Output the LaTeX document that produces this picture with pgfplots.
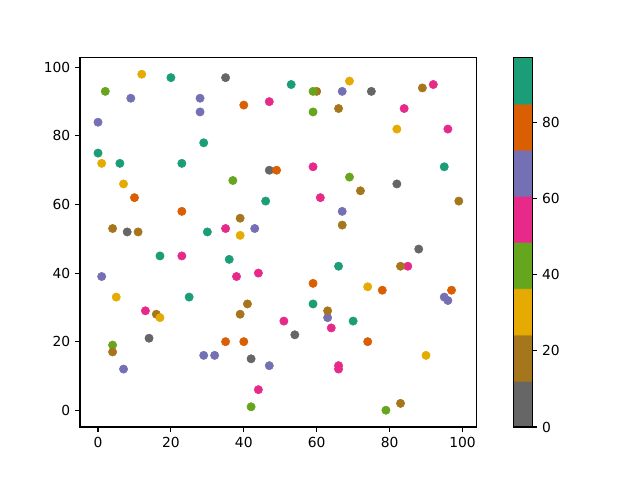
\documentclass[border=0pt]{standalone}
\usepackage{pgfplots}
\pgfplotsset{compat=1.18}
\usepackage{fontspec}
\setmainfont{DejaVu Sans}
\pgfplotsset{colormap={darkr}{
 rgb255(0cm)=(102,102,102) rgb255(0.99cm)=(102,102,102)
 rgb255(1cm)=(166,118,29) rgb255(1.99cm)=(166,118,29)
 rgb255(2cm)=(230,171,2) rgb255(2.99cm)=(230,171,2)
 rgb255(3cm)=(102,166,30) rgb255(3.99cm)=(102,166,30)
 rgb255(4cm)=(231,41,138) rgb255(4.99cm)=(231,41,138)
 rgb255(5cm)=(117,112,179) rgb255(5.99cm)=(117,112,179)
 rgb255(6cm)=(217,95,2) rgb255(6.99cm)=(217,95,2)
 rgb255(7cm)=(27,158,119) rgb255(8cm)=(27,158,119)}}
\begin{document}
\begin{tikzpicture}
\useasboundingbox (0,0) rectangle (462.5pt,346.9pt);
\begin{axis}[
  at={(57.8pt,38.3pt)}, anchor=south west,
  scale only axis, width=286.8pt, height=267.1pt,
  xmin=-4.95, xmax=103.95, ymin=-4.9, ymax=102.9,
  xtick={0,20,...,100}, ytick={0,20,...,100},
  xtick pos=bottom, ytick pos=left,
  tick align=outside, major tick length=3.5pt,
  tick style={black, line width=0.8pt},
  axis line style={line width=0.8pt},
  /pgf/number format/assume math mode=true,
  colormap name=darkr,
  point meta min=0, point meta max=97,
  colorbar,
  colorbar style={
    at={(parent axis.north east)}, anchor=north west, xshift=18.2pt,
    scale only axis, width=13.4pt, height=267.1pt,
    ytick={0,20,...,80}, xtick=\empty,
    ytick pos=right, yticklabel pos=right,
    tick align=outside, major tick length=3.5pt,
    ytick style={black, line width=0.8pt},
    axis line style={line width=0.8pt},
    /pgf/number format/assume math mode=true,
  },
]
\addplot[scatter, only marks, mark=*, mark size=3pt, scatter src=explicit,
  scatter/use mapped color={draw=mapped color, fill=mapped color}]
table[x=x, y=y, meta=c] {
x y c
12 98 30
20 97 91
2 93 42
9 91 67
28 91 67
28 87 67
0 84 67
29 78 91
0 75 91
1 72 30
6 72 91
23 72 91
7 66 30
10 62 79
23 58 79
4 53 18
8 52 6
11 52 18
30 52 91
35 97 6
53 95 91
60 93 18
59 93 42
67 93 67
69 96 30
40 89 79
47 90 55
59 87 42
66 88 18
47 70 6
49 70 79
59 71 55
37 67 42
69 68 42
46 61 91
61 62 55
67 58 67
67 54 18
39 56 18
35 53 55
39 51 30
43 53 67
75 93 6
89 94 18
92 95 55
84 88 55
82 82 30
96 82 55
95 71 91
72 64 18
82 66 6
99 61 18
17 45 91
23 45 55
1 39 67
5 33 30
25 33 91
13 29 55
16 28 18
17 27 30
14 21 6
4 19 42
4 17 18
7 12 67
29 16 67
32 16 67
36 44 91
38 39 55
44 40 55
66 42 91
59 37 79
41 31 18
39 28 18
59 31 91
63 27 67
63 29 18
64 24 55
70 26 91
51 26 55
54 22 6
35 20 79
40 20 79
42 15 6
47 13 67
66 13 55
66 12 55
44 6 55
42 1 42
88 47 6
85 42 55
83 42 18
74 36 30
78 35 79
97 35 79
95 33 67
96 32 67
74 20 79
90 16 30
83 2 18
79 0 42
};
\end{axis}
\end{tikzpicture}
\end{document}
